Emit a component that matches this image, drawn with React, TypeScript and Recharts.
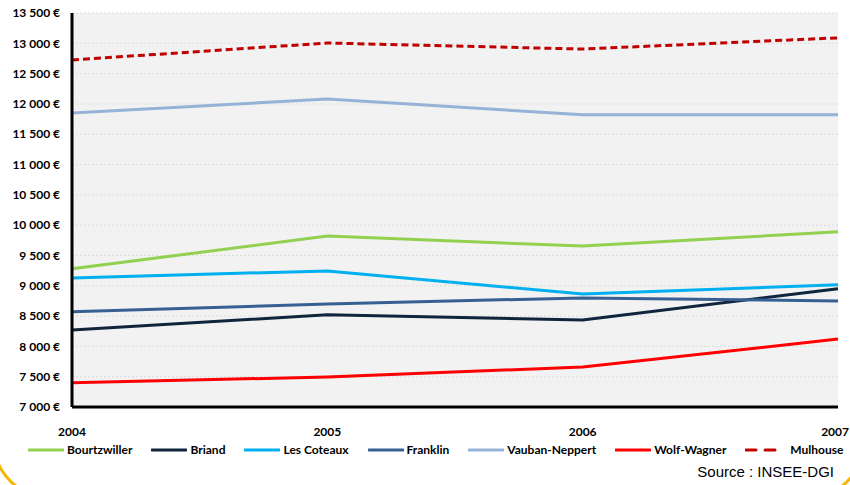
import { LineChart, Line, XAxis, YAxis, CartesianGrid } from 'recharts';

const years = ['2004', '2005', '2006', '2007'];
const bourtzwiller = [9280, 9820, 9655, 9890];
const briand = [8270, 8520, 8435, 8950];
const lesCoteaux = [9130, 9245, 8865, 9015];
const franklin = [8570, 8700, 8800, 8750];
const vaubanNeppert = [11850, 12080, 11820, 11820];
const wolfWagner = [7400, 7495, 7660, 8120];
const mulhouse = [12725, 13005, 12905, 13090];
const yTicks = [7000, 7500, 8000, 8500, 9000, 9500, 10000, 10500, 11000, 11500, 12000, 12500, 13000, 13500];

const series = [
  { key: 'Bourtzwiller', values: bourtzwiller, color: '#92d050' },
  { key: 'Briand', values: briand, color: '#10243e' },
  { key: 'Les Coteaux', values: lesCoteaux, color: '#00b0f0' },
  { key: 'Franklin', values: franklin, color: '#376092' },
  { key: 'Vauban-Neppert', values: vaubanNeppert, color: '#95b3d7' },
  { key: 'Wolf-Wagner', values: wolfWagner, color: '#ff0000' },
  { key: 'Mulhouse', values: mulhouse, color: '#c00000', dashed: true },
];

const data = years.map((year, i) => {
  const row: Record<string, string | number> = { year };
  series.forEach(s => { row[s.key] = s.values[i]; });
  return row;
});

const fmt = (v: number) => v.toLocaleString('fr-FR').replace(/\s/g, ' ') + ' €';
const font = 'Lato, "Open Sans", sans-serif';

// keep the last year label inside the picture
function YearTick({ x, y, payload }: any) {
  const last = payload.value === years[years.length - 1];
  return (
    <text x={last ? Math.min(x + 13, 849) : x} y={y} dy={9} textAnchor={last ? 'end' : 'middle'}
      fontFamily={font} fontWeight={700} fontSize={12} fill="#000">
      {payload.value}
    </text>
  );
}

function LegendRow() {
  return (
    <div style={{ position: 'absolute', left: 28, top: 442, display: 'flex', alignItems: 'center', whiteSpace: 'nowrap',
      fontFamily: font, fontWeight: 700, fontSize: 12, color: '#000' }}>
      {series.map(s => (
        <div key={s.key} style={{ display: 'flex', alignItems: 'center', marginRight: 19 }}>
          <svg width={36} height={6} style={{ marginRight: s.dashed ? 9 : 3 }}>
            <line x1={1} y1={3} x2={35} y2={3} stroke={s.color} strokeWidth={3}
              strokeDasharray={s.dashed ? '10 9' : undefined} strokeLinecap="round" />
          </svg>
          <span>{s.key}</span>
        </div>
      ))}
    </div>
  );
}

export default function App() {
  return (
    <div style={{ position: 'absolute', left: 0, top: 0, width: 850, height: 485, background: '#fff', overflow: 'hidden' }}>
      <LineChart width={850} height={485} data={data} margin={{ top: 13, right: 12, bottom: 48, left: 0 }}>
        <CartesianGrid vertical={false} fill="#f2f2f2" stroke="#dcdcdc" strokeDasharray="2 2" />
        <XAxis dataKey="year" tickLine={false} axisLine={{ stroke: '#000', strokeWidth: 3 }} tickMargin={14}
          tick={<YearTick />} interval={0} />
        <YAxis width={72} domain={[7000, 13500]} ticks={yTicks} tickFormatter={fmt} tickLine={false}
          axisLine={{ stroke: '#000', strokeWidth: 3 }} tickMargin={6}
          tick={{ fontFamily: font, fontWeight: 700, fontSize: 12, fill: '#000' }} />
        {series.map(s => (
          <Line key={s.key} dataKey={s.key} stroke={s.color} strokeWidth={3} dot={false}
            strokeDasharray={s.dashed ? '7 4' : undefined} isAnimationActive={false} />
        ))}
      </LineChart>
      <LegendRow />
      <div style={{ position: 'absolute', right: 16, top: 463, fontFamily: 'Arial, "Liberation Sans", sans-serif', fontSize: 15, color: '#000' }}>
        Source : INSEE-DGI
      </div>
      <div style={{ position: 'absolute', left: -8, top: 300, width: 874, height: 200, border: '3px solid #f5b700',
        borderRadius: 60, boxSizing: 'border-box', clipPath: 'inset(160px 0 0 0)' }} />
    </div>
  );
}
